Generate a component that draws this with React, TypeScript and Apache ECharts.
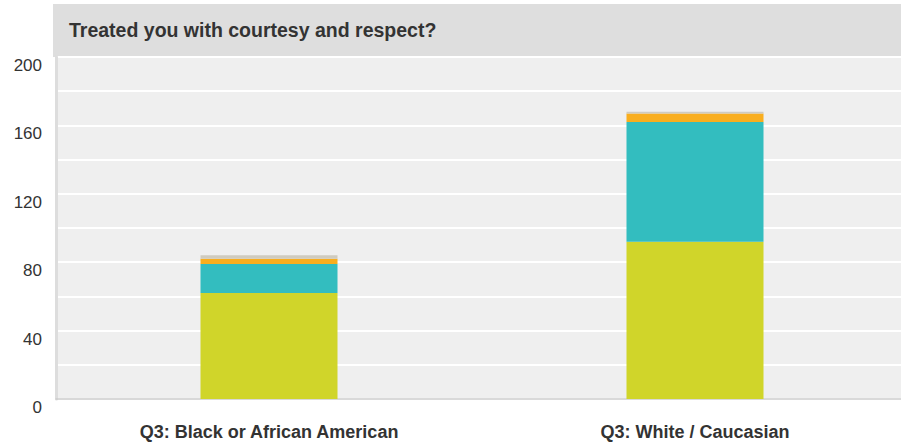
import React, { useEffect, useRef } from "react";
import * as echarts from "echarts";

const title = "Treated you with courtesy and respect?";
const categories = ["Q3: Black or African American", "Q3: White / Caucasian"];
const seriesNames = ["Always", "Usually", "Sometimes", "Never"];
const seriesColors = ["#d0d52a", "#33bdbf", "#f9ae1e", "#cfcbbf"];
const always = [62, 92];
const usually = [17, 70];
const sometimes = [3, 5];
const never = [2, 1];
const seriesValues = [always, usually, sometimes, never];
const yTickLabels = [0, 40, 80, 120, 160, 200];

export default function App() {
  const ref = useRef<HTMLDivElement>(null);
  useEffect(() => {
    if (!ref.current) return;
    const chart = echarts.init(ref.current, undefined, { renderer: "svg" });
    chart.setOption({
      animation: false,
      backgroundColor: "#ffffff",
      graphic: [
        {
          type: "rect",
          shape: { x: 53, y: 4, width: 848, height: 53 },
          style: { fill: "#dedede" },
          z: 0,
        },
        {
          type: "text",
          x: 69,
          y: 30,
          style: {
            text: title,
            fill: "#333333",
            font: "bold 19.5px 'Liberation Sans', Arial, sans-serif",
            verticalAlign: "middle",
          },
          z: 1,
        },
      ],
      grid: {
        left: 56,
        top: 57,
        width: 852,
        height: 342,
        show: true,
        backgroundColor: "#efefef",
        borderWidth: 0,
        outerBoundsMode: "none",
        containLabel: false,
      },
      xAxis: {
        type: "category",
        data: categories,
        axisLine: { show: true, lineStyle: { color: "#cccccc", width: 1.5 } },
        axisTick: { show: false },
        axisLabel: {
          margin: 24,
          color: "#333333",
          fontWeight: "bold",
          fontSize: 18,
          fontFamily: "'Liberation Sans', Arial, sans-serif",
        },
      },
      yAxis: {
        type: "value",
        min: 0,
        max: 200,
        interval: 40,
        axisLine: { show: true, lineStyle: { color: "#dddddd", width: 3 } },
        axisTick: { show: false },
        axisLabel: {
          margin: 14,
          color: "#333333",
          fontSize: 17,
          fontFamily: "'Liberation Sans', Arial, sans-serif",
          verticalAlign: "top",
          formatter: (v: number) => (yTickLabels.includes(v) ? String(v) : ""),
        },
        splitLine: { show: true, lineStyle: { color: "#ffffff", width: 2 } },
        minorTick: { show: false, splitNumber: 2 },
        minorSplitLine: { show: true, lineStyle: { color: "#ffffff", width: 2 } },
      },
      series: seriesValues.map((vals, i) => ({
        name: seriesNames[i],
        type: "bar",
        stack: "total",
        data: vals,
        barWidth: 137,
        itemStyle: { color: seriesColors[i] },
      })),
    });
    return () => chart.dispose();
  }, []);
  return (
    <div
      ref={ref}
      style={{ position: "fixed", left: 0, top: 0, width: 901, height: 447 }}
    />
  );
}
